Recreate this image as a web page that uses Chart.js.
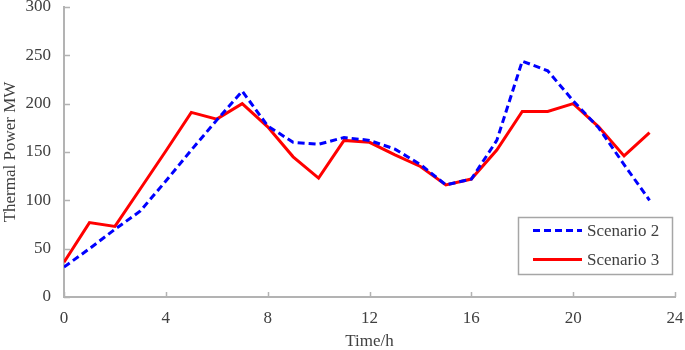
<!DOCTYPE html>
<html>
<head>
<meta charset="utf-8">
<script src="https://cdn.jsdelivr.net/npm/chart.js@4/dist/chart.umd.min.js"></script>
<style>
  html, body { margin: 0; padding: 0; background: #fff; }
  #wrap { width: 685px; height: 350px; }
</style>
</head>
<body>
<div id="wrap"><canvas id="c" width="685" height="350"></canvas></div>
<script>
// --- data ---
const hours = [0, 1, 2, 3, 4, 5, 6, 7, 8, 9, 10, 11, 12, 13, 14, 15, 16, 17, 18, 19, 20, 21, 22, 23];
const scenario2 = [31, 50, 70, 89, 120, 152, 183, 213, 177, 160, 158, 165, 162, 153, 137, 116, 122, 162, 244, 234, 203, 175, 137, 100];
const scenario3 = [36, 77, 73, 112, 151, 191, 184, 200, 176, 145, 123, 162, 160, 147, 135, 116, 122, 152, 192, 192, 200, 176, 146, 170];
const xTicks = [0, 4, 8, 12, 16, 20, 24];
const yTicks = [0, 50, 100, 150, 200, 250, 300];

const serif = "'Liberation Serif', 'Times New Roman', serif";
const axisGray = "#b3b3b3";
const textGray = "#404040";

const toPoints = (vals) => vals.map((v, i) => ({ x: hours[i], y: v }));

// inside tick marks (axis ticks point into the plot)
const innerTicks = {
  id: "innerTicks",
  afterDraw(chart) {
    const { ctx, chartArea, scales } = chart;
    ctx.save();
    ctx.strokeStyle = axisGray;
    ctx.lineWidth = 1.5;
    ctx.beginPath();
    xTicks.forEach((t) => {
      const px = Math.round(scales.x.getPixelForValue(t)) + 0.5;
      ctx.moveTo(px, chartArea.bottom);
      ctx.lineTo(px, chartArea.bottom - 5);
    });
    yTicks.forEach((t) => {
      const py = Math.round(scales.y.getPixelForValue(t)) + 0.5;
      ctx.moveTo(chartArea.left, py);
      ctx.lineTo(chartArea.left + 6, py);
    });
    ctx.stroke();
    ctx.restore();
  },
};

// boxed legend in the lower right corner of the plot
const boxLegend = {
  id: "boxLegend",
  afterDraw(chart) {
    const { ctx, chartArea } = chart;
    const w = 154, h = 57;
    const x0 = chartArea.right - 3 - w;
    const y0 = chartArea.bottom - 23 - h;
    ctx.save();
    ctx.fillStyle = "#fff";
    ctx.fillRect(x0, y0, w, h);
    ctx.strokeStyle = "#a6a6a6";
    ctx.lineWidth = 1.5;
    ctx.strokeRect(x0 + 0.5, y0 + 0.5, w, h);
    ctx.font = "17px " + serif;
    ctx.textBaseline = "middle";
    chart.data.datasets.forEach((ds, i) => {
      const y = y0 + 13.5 + i * 29;
      ctx.strokeStyle = ds.borderColor;
      ctx.lineWidth = ds.borderWidth;
      ctx.setLineDash(ds.borderDash || []);
      ctx.beginPath();
      ctx.moveTo(x0 + 15, y);
      ctx.lineTo(x0 + 64, y);
      ctx.stroke();
      ctx.setLineDash([]);
      ctx.fillStyle = textGray;
      ctx.fillText(ds.label, x0 + 69, y + 1);
    });
    ctx.restore();
  },
};

new Chart(document.getElementById("c"), {
  type: "line",
  data: {
    datasets: [
      {
        label: "Scenario 2",
        data: toPoints(scenario2),
        borderColor: "rgb(0,0,255)",
        borderWidth: 3,
        borderDash: [7, 4],
        pointRadius: 0,
        fill: false,
      },
      {
        label: "Scenario 3",
        data: toPoints(scenario3),
        borderColor: "rgb(255,0,0)",
        borderWidth: 3,
        pointRadius: 0,
        fill: false,
      },
    ],
  },
  options: {
    responsive: false,
    animation: false,
    layout: { padding: { top: 7, right: 10, left: 0, bottom: 0 } },
    plugins: { legend: { display: false }, tooltip: { enabled: false } },
    scales: {
      x: {
        type: "linear",
        min: 0,
        max: 24,
        afterBuildTicks: (s) => { s.ticks = xTicks.map((v) => ({ value: v })); },
        grid: { display: false },
        border: { display: true, color: axisGray, width: 2 },
        ticks: { padding: 3, color: textGray, font: { family: serif, size: 17 } },
        title: {
          display: true,
          text: "Time/h",
          color: textGray,
          font: { family: serif, size: 17, lineHeight: 1 },
          padding: { top: 0, bottom: 0 },
        },
        afterFit: (s) => { s.height = 53; s.paddingRight = 0; s.paddingLeft = 0; },
      },
      y: {
        min: 0,
        max: 300,
        afterBuildTicks: (s) => { s.ticks = yTicks.map((v) => ({ value: v })); },
        grid: { display: false },
        border: { display: true, color: axisGray, width: 2 },
        ticks: { padding: 5, color: textGray, font: { family: serif, size: 17 } },
        title: {
          display: true,
          text: "Thermal Power MW",
          color: textGray,
          font: { family: serif, size: 17 },
          padding: { top: 0, bottom: 0 },
        },
        afterFit: (s) => { s.width = 64; s.paddingTop = 0; s.paddingBottom = 0; },
      },
    },
  },
  plugins: [innerTicks, boxLegend],
});
</script>
</body>
</html>
